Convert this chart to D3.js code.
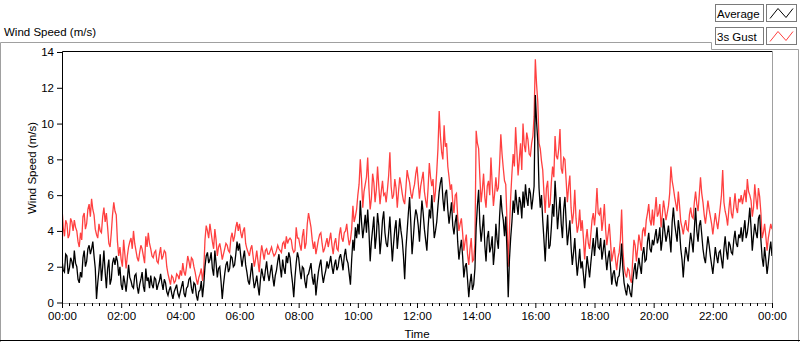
<!DOCTYPE html>
<html>
<head>
<meta charset="utf-8">
<script src="https://cdn.jsdelivr.net/npm/d3@7"></script>
<style>
  html, body { margin: 0; padding: 0; background: #fff; }
  svg { display: block; font-family: "Liberation Sans", Arial, sans-serif; }
</style>
</head>
<body>
<div id="container"></div>
<script>
// 2.5-minute samples, 00:00 .. 24:00 (one row per hour)
const average = [
  2.4,1.8, 1.7,2.7, 2.6,1.6, 1.9,2.5, 2.3,1.9, 2.9,2.2, 2.0,1.3, 1.1,1.7, 1.4,2.5, 2.9,2.0, 2.3,3.0, 3.2,2.7,
  3.0,3.4, 2.6,1.9, 0.2,1.1, 1.8,2.7, 1.2,2.0, 2.9,1.7, 0.8,1.9, 2.4,1.0, 1.3,2.2, 2.5,2.1, 2.6,2.3, 1.5,2.0,
  1.0,0.7, 1.5,1.1, 0.6,1.3, 2.1,1.4, 1.2,0.9, 0.8,1.5, 1.6,0.9, 0.5,1.0, 1.3,1.7, 0.9,0.6, 1.9,1.2, 1.4,0.8,
  1.5,1.0, 0.8,1.4, 1.3,0.7, 1.0,1.2, 1.6,1.1, 0.7,1.3, 1.1,0.6, 0.4,0.7, 0.9,0.5, 0.2,0.6, 0.8,1.0, 0.5,0.3,
  0.6,0.9, 1.2,0.5, 0.3,0.8, 0.9,1.3, 1.4,0.8, 0.5,1.1, 1.0,0.4, 0.1,0.6, 0.7,1.2, 0.3,1.0, 2.0,2.6, 2.8,2.2,
  2.4,2.8, 1.9,1.5, 2.9,2.2, 1.4,1.9, 2.0,1.2, 0.2,1.0, 1.6,2.1, 2.3,1.7, 1.9,2.6, 2.5,2.0, 2.1,2.7, 3.4,2.9,
  3.3,2.6, 2.0,2.5, 2.9,2.1, 1.7,1.2, 1.0,1.6, 2.2,1.4, 0.8,1.1, 1.5,0.9, 0.4,1.3, 1.9,1.5, 1.2,1.8, 2.3,1.6,
  1.2,1.7, 2.1,1.4, 0.9,1.5, 1.8,2.3, 2.7,2.0, 1.4,2.4, 1.9,1.6, 2.6,2.2, 2.8,2.5, 1.7,1.1, 0.3,1.4, 2.2,2.8,
  2.5,1.8, 1.3,2.0, 1.9,1.2, 0.8,1.5, 1.6,1.9, 2.2,1.4, 1.0,1.6, 0.4,1.1, 1.7,2.1, 2.4,1.6, 1.1,1.5, 1.8,2.3,
  1.9,2.2, 2.6,2.0, 1.6,2.1, 2.4,1.8, 2.0,2.5, 2.7,2.3, 1.8,2.6, 3.0,2.4, 2.2,1.6, 1.0,2.4, 3.5,2.9, 4.2,3.6,
  4.4,3.8, 5.7,4.5, 3.6,4.2, 4.9,3.9, 5.2,4.0, 2.3,3.4, 4.1,4.8, 3.0,3.7, 5.0,4.3, 2.7,3.5, 4.6,5.1, 3.9,3.3,
  3.1,3.9, 4.8,3.5, 2.3,3.3, 4.1,4.6, 3.0,3.8, 4.7,4.0, 3.5,2.6, 1.3,3.0, 4.0,5.0, 5.9,4.4, 2.7,3.6, 4.6,5.2,
  4.9,4.3, 3.4,4.6, 5.7,5.0, 4.1,3.5, 2.9,4.2, 5.2,4.7, 6.0,4.8, 3.6,4.0, 4.5,5.4, 6.2,6.7, 7.0,5.8, 5.1,6.1,
  6.3,5.2, 4.4,5.0, 5.6,4.3, 3.8,4.5, 4.9,3.4, 2.4,3.0, 3.5,2.6, 1.4,2.0, 2.2,1.3, 0.3,1.1, 1.6,0.7, 1.0,1.9,
  4.2,5.4, 6.3,4.4, 3.4,4.1, 4.9,3.2, 2.3,3.6, 4.0,2.8, 3.1,3.7, 2.1,2.9, 4.4,3.5, 3.0,4.8, 6.0,5.1, 4.6,3.7,
  4.8,2.9, 0.3,2.4, 3.6,4.5, 5.7,5.0, 6.3,5.5, 4.9,5.9, 5.6,4.7, 6.2,5.3, 6.6,5.8, 5.4,6.4, 6.1,5.2, 5.8,6.5,
  11.6,10.1, 9.0,6.4, 5.3,6.0, 4.6,3.5, 2.3,3.8, 4.9,3.0, 3.2,4.2, 5.5,4.8, 6.8,5.6, 4.1,5.0, 5.9,4.4, 3.6,5.2,
  5.9,4.5, 3.2,3.9, 4.6,3.1, 2.1,2.8, 3.6,2.4, 1.5,2.2, 3.0,1.9, 2.3,1.6, 0.8,1.7, 2.6,2.0, 1.4,2.2, 2.9,3.6,
  2.6,3.4, 4.2,3.1, 3.0,3.6, 2.4,2.9, 3.5,2.6, 1.8,2.5, 2.9,2.0, 1.0,1.6, 1.8,1.2, 0.9,1.4, 1.5,2.2, 3.3,1.9,
  1.1,0.7, 0.4,1.0, 0.9,0.5, 0.3,1.2, 1.8,2.2, 1.3,1.9, 2.5,2.0, 1.6,2.7, 3.1,2.3, 2.4,3.4, 3.9,3.0, 2.8,3.5,
  3.2,3.7, 4.1,3.3, 3.6,4.2, 2.9,3.5, 4.7,4.0, 3.4,3.8, 4.3,3.6, 2.8,4.5, 5.3,4.4, 3.9,3.4, 4.6,4.0, 3.0,2.4,
  1.4,2.4, 3.1,2.7, 2.3,3.2, 3.9,3.4, 2.8,4.1, 5.3,4.0, 3.4,4.3, 4.6,3.8, 3.0,2.5, 2.2,3.0, 3.7,3.2, 2.6,2.1,
  1.6,2.3, 3.1,2.6, 2.2,2.8, 2.9,2.4, 1.9,3.0, 3.7,2.9, 2.4,3.4, 3.2,2.8, 2.7,3.5, 4.0,3.3, 3.1,3.8, 3.6,4.2,
  3.4,4.0, 4.6,3.6, 3.9,4.5, 5.3,4.2, 2.9,3.7, 4.4,3.9, 3.6,4.7, 4.9,3.5, 2.5,2.0, 3.1,2.4, 1.6,2.2, 2.9,3.4,
  2.6
];
const gust = [
  5.3,4.2, 3.7,4.6, 4.4,3.6, 3.8,4.7, 4.5,4.0, 4.6,4.2, 4.0,3.4, 3.1,3.9, 3.5,4.8, 5.0,4.1, 4.4,5.2, 5.5,4.8,
  5.8,5.2, 4.9,4.1, 3.8,3.6, 4.4,4.0, 3.9,4.8, 5.3,4.5, 5.0,4.2, 3.3,3.1, 3.9,4.9, 5.6,5.1, 4.9,3.4, 2.6,3.1,
  2.4,2.0, 3.5,2.7, 1.9,2.6, 3.1,3.4, 3.6,3.0, 4.0,3.3, 2.9,2.5, 2.3,2.8, 3.2,3.0, 2.6,2.2, 3.7,3.1, 3.9,3.3,
  3.0,2.6, 2.5,2.8, 2.9,2.3, 2.2,2.7, 3.1,2.4, 2.6,2.9, 2.8,2.0, 1.6,1.3, 1.0,1.5, 1.4,1.1, 1.2,1.6, 1.5,1.3,
  1.8,1.5, 2.2,1.7, 1.5,2.0, 2.6,2.3, 1.9,2.5, 2.4,2.0, 1.7,1.3, 1.0,1.4, 1.6,1.9, 1.2,1.8, 3.5,4.3, 4.0,3.6,
  4.4,3.9, 3.4,3.0, 4.1,3.5, 2.6,3.1, 3.3,2.9, 2.4,2.7, 3.0,3.3, 3.2,2.9, 2.8,3.6, 3.9,3.4, 3.7,4.2, 4.5,4.0,
  4.4,3.9, 3.6,4.0, 4.2,3.3, 3.0,2.8, 2.6,3.0, 3.2,2.6, 2.0,2.4, 2.9,2.3, 1.7,2.6, 3.2,2.8, 2.4,2.9, 3.0,2.7,
  2.7,2.9, 3.1,2.8, 2.6,2.7, 2.9,3.2, 3.0,2.9, 2.8,3.3, 3.4,3.0, 3.7,3.3, 3.5,3.6, 3.5,3.0, 2.8,2.9, 4.2,3.6,
  3.6,3.2, 2.9,3.7, 4.1,3.0, 3.3,4.4, 5.0,4.6, 4.2,3.5, 3.0,3.4, 2.7,3.1, 3.5,3.8, 3.9,3.3, 2.8,3.0, 3.3,3.6,
  3.1,3.5, 3.9,3.2, 2.7,3.3, 3.6,3.0, 2.9,3.8, 4.2,3.6, 3.4,3.9, 4.0,4.4, 3.7,3.2, 3.5,4.1, 5.4,4.5, 4.8,5.2,
  6.0,6.6, 8.0,6.9, 5.3,6.2, 6.6,7.0, 8.1,6.4, 5.2,5.8, 7.2,6.7, 5.6,6.3, 7.6,6.5, 5.5,6.2, 6.8,6.0, 6.1,5.6,
  6.3,7.1, 8.4,6.5, 5.8,6.0, 6.9,6.4, 5.3,6.2, 7.0,6.6, 6.1,5.7, 5.5,6.4, 7.4,7.0, 6.7,6.1, 5.8,6.3, 6.6,7.2,
  7.6,6.7, 5.8,6.5, 6.9,7.3, 6.2,5.7, 5.3,6.4, 7.8,7.0, 6.5,6.9, 5.6,6.2, 7.3,8.6, 10.7,9.3, 8.4,8.0, 9.9,8.7,
  8.9,7.6, 7.0,6.3, 6.6,5.6, 5.0,6.0, 6.1,4.8, 4.0,4.4, 4.7,3.9, 2.9,3.4, 3.8,2.7, 2.1,3.0, 3.6,2.3, 2.4,3.3,
  9.6,8.9, 8.6,7.0, 5.6,6.3, 7.2,5.9, 5.3,6.5, 6.8,6.0, 8.1,6.6, 5.4,6.1, 7.0,6.2, 6.4,7.7, 9.4,8.3, 7.5,6.8,
  6.6,4.6, 2.0,4.1, 5.9,7.2, 8.3,7.6, 9.8,8.5, 7.1,8.0, 8.9,7.4, 10.0,8.8, 8.4,9.5, 9.1,8.3, 8.2,8.9, 9.3,10.4,
  13.6,12.2, 11.2,8.9, 8.6,7.9, 7.4,6.1, 5.0,6.4, 6.8,5.3, 5.5,6.7, 7.6,7.0, 9.3,8.2, 8.0,8.6, 9.7,7.5, 7.2,8.1,
  8.0,6.8, 5.6,6.5, 7.1,5.3, 4.4,5.0, 6.3,4.7, 3.9,4.3, 5.2,4.0, 4.6,3.6, 2.4,3.5, 4.1,3.3, 3.0,3.8, 4.6,5.0,
  4.3,5.1, 6.4,5.0, 4.9,5.3, 4.0,4.6, 5.5,4.1, 3.2,3.8, 4.4,3.4, 2.3,2.7, 3.1,2.4, 1.8,2.5, 2.8,3.5, 5.2,3.0,
  2.0,1.6, 1.4,1.9, 1.8,1.3, 1.1,2.4, 3.5,3.2, 2.3,3.0, 3.8,3.4, 2.9,4.0, 4.2,3.7, 4.6,5.0, 5.5,4.6, 4.3,5.2,
  4.3,5.1, 5.9,4.8, 5.0,5.5, 4.2,4.9, 5.7,5.2, 4.6,5.0, 5.4,6.1, 7.6,6.8, 6.4,5.9, 5.5,5.1, 6.2,5.4, 4.5,4.2,
  3.8,4.3, 4.6,4.1, 4.0,4.9, 5.3,4.8, 4.7,5.6, 6.2,5.5, 5.1,6.0, 7.0,6.1, 5.6,4.9, 4.4,5.0, 5.7,5.2, 4.8,4.4,
  3.8,4.4, 5.0,4.5, 4.1,4.7, 5.3,6.0, 7.4,5.6, 5.1,4.8, 4.3,5.2, 5.9,5.0, 4.7,5.4, 6.1,5.3, 5.0,5.8, 5.6,6.0,
  5.5,5.9, 6.3,5.6, 6.9,6.2, 6.0,5.7, 4.8,5.3, 6.6,5.8, 5.2,6.4, 5.9,5.0, 3.6,3.9, 4.4,3.7, 2.9,3.6, 4.0,4.4,
  4.1
];
const stepMinutes = 2.5;
const xTickLabels = ['00:00', '02:00', '04:00', '06:00', '08:00', '10:00', '12:00',
                     '14:00', '16:00', '18:00', '20:00', '22:00', '00:00'];
const yTicks = [0, 2, 4, 6, 8, 10, 12, 14];
const seriesNames = ['Average', '3s Gust'];
const seriesColors = ['#000000', '#ff4040'];

const width = 800, height = 342;
const plot = { left: 62, right: 772, top: 51, bottom: 303 };

const svg = d3.select('#container').append('svg')
    .attr('width', width)
    .attr('height', height);

const x = d3.scaleLinear().domain([0, 1440]).range([plot.left, plot.right]);
const y = d3.scaleLinear().domain([0, 14]).range([302.5, 52]);

// outer panel frame
svg.append('path')
    .attr('d', 'M0.5,342V42.5H711.5V49.5H798.5V342')
    .attr('fill', 'none')
    .attr('stroke', '#a0a0a0');
svg.append('line')
    .attr('x1', 0).attr('x2', 800).attr('y1', 340.5).attr('y2', 340.5)
    .attr('stroke', '#000');

svg.append('text')
    .attr('x', 4).attr('y', 36)
    .attr('font-size', 11.5)
    .text('Wind Speed (m/s)');

svg.append('rect')
    .attr('x', plot.left).attr('y', plot.top)
    .attr('width', plot.right - plot.left).attr('height', plot.bottom - plot.top)
    .attr('fill', '#fff');

const line = d3.line()
    .x((d, i) => x(i * stepMinutes))
    .y(d => y(d));

svg.append('clipPath').attr('id', 'clip')
    .append('rect')
    .attr('x', plot.left + 1).attr('y', plot.top + 1)
    .attr('width', plot.right - plot.left - 1).attr('height', plot.bottom - plot.top - 1);

// gust underneath, average on top
const lines = svg.append('g').attr('clip-path', 'url(#clip)');
[[gust, seriesColors[1]], [average, seriesColors[0]]].forEach(([s, c]) => {
    lines.append('path')
        .datum(s)
        .attr('fill', 'none')
        .attr('stroke', c)
        .attr('stroke-width', 1.3)
        .attr('stroke-linejoin', 'miter')
        .attr('d', line);
});

svg.append('path')
    .attr('d', `M${plot.left + 0.5},${plot.bottom}V${plot.top + 0.5}H${plot.right}`)
    .attr('fill', 'none').attr('stroke', '#000');
svg.append('path')
    .attr('d', `M${plot.right + 0.5},${plot.top}V${plot.bottom + 0.5}H${plot.left}`)
    .attr('fill', 'none').attr('stroke', '#a0a0a0');

// y axis
const yAxis = svg.append('g')
    .attr('transform', `translate(${plot.left},0)`)
    .call(d3.axisLeft(y).tickValues(yTicks).tickSize(5).tickPadding(3).tickFormat(d3.format('d')));
yAxis.select('.domain').remove();
yAxis.selectAll('text').attr('font-size', 11.5).attr('fill', '#000').attr('font-family', null);
yAxis.selectAll('line').attr('stroke', '#000');

// x axis: major every 2 h, minor every 15 min
const xAxis = svg.append('g')
    .attr('transform', `translate(0,${plot.bottom})`)
    .call(d3.axisBottom(x).tickValues(d3.range(0, 1441, 120)).tickSize(5).tickPadding(4)
        .tickFormat((d, i) => xTickLabels[i]));
xAxis.select('.domain').remove();
xAxis.selectAll('text').attr('font-size', 11.5).attr('fill', '#000').attr('font-family', null);
xAxis.selectAll('line').attr('stroke', '#000');
svg.append('g')
    .attr('transform', `translate(0,${plot.bottom})`)
    .selectAll('line')
    .data(d3.range(0, 1441, 15).filter(d => d % 120 !== 0))
    .join('line')
    .attr('x1', d => Math.round(x(d)) + 0.5).attr('x2', d => Math.round(x(d)) + 0.5)
    .attr('y1', 0).attr('y2', 3)
    .attr('stroke', '#000');

svg.append('text')
    .attr('x', 417).attr('y', 338)
    .attr('text-anchor', 'middle')
    .attr('font-size', 11.5)
    .text('Time');

svg.append('text')
    .attr('transform', 'translate(36,168) rotate(-90)')
    .attr('text-anchor', 'middle')
    .attr('font-size', 11.5)
    .text('Wind Speed (m/s)');

// legend
const legend = svg.append('g');
seriesNames.forEach((name, i) => {
    const top = 4.5 + i * 23;
    legend.append('rect')
        .attr('x', 715.5).attr('y', top).attr('width', 48).attr('height', 17)
        .attr('fill', '#fff').attr('stroke', '#7a7a7a');
    legend.append('text')
        .attr('x', 717).attr('y', top + 13)
        .attr('font-size', 11.5)
        .text(name);
    legend.append('rect')
        .attr('x', 766.5).attr('y', top).attr('width', 30).attr('height', 17)
        .attr('fill', '#fff').attr('stroke', '#7a7a7a');
    legend.append('path')
        .attr('d', `M770,${top + 14}L778,${top + 4}L786,${top + 13}L793,${top + 4}`)
        .attr('fill', 'none')
        .attr('stroke', seriesColors[i]);
});
</script>
</body>
</html>
